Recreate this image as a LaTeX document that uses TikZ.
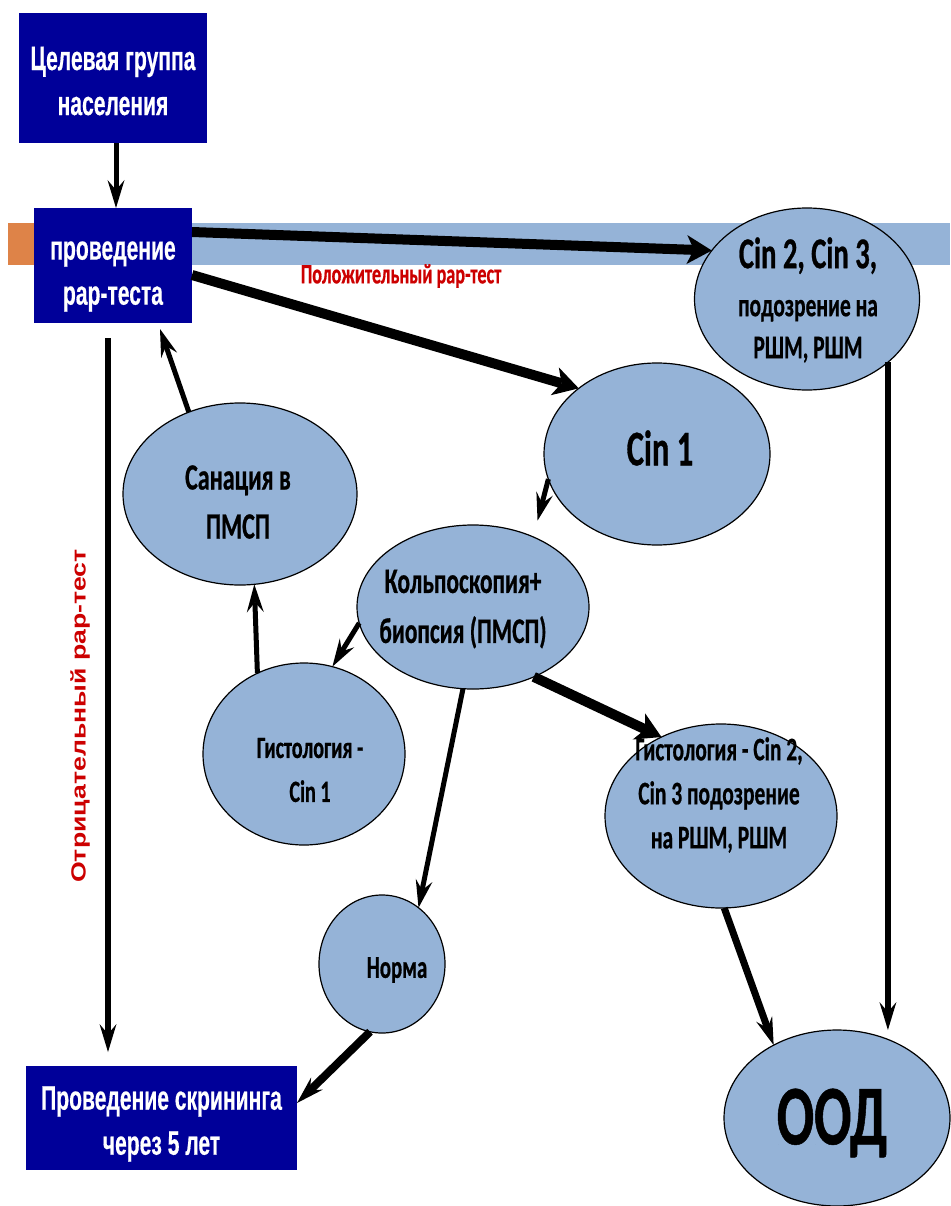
\documentclass[tikz,border=0pt]{standalone}
\usepackage{fontspec}
\usetikzlibrary{arrows.meta,shapes.geometric}
\newfontfamily\boxfont{Liberation Sans}[FakeStretch=0.62, FakeBold=0.4]
\newfontfamily\ovalfont{Carlito}[FakeStretch=0.65, FakeBold=0.6]
\newfontfamily\sidefont{Liberation Sans}[FakeStretch=1.3]
\definecolor{boxblue}{RGB}{0,0,153}
\definecolor{ovalblue}{RGB}{149,179,215}
\definecolor{bandorange}{RGB}{222,131,72}
\definecolor{labelred}{RGB}{204,0,0}
\tikzset{
  bluebox/.style={rectangle, fill=boxblue, inner sep=0pt, outer sep=0pt},
  boxtext/.style={text=white, inner sep=0pt, align=center,
    font=\boxfont\bfseries\fontsize{34}{45}\selectfont},
  oval/.style={ellipse, draw=black, line width=1.2pt, fill=ovalblue, inner sep=0pt, outer sep=0pt},
  ovaltext/.style n args={2}{align=center, inner sep=0pt, text=black,
    font=\ovalfont\bfseries\fontsize{#1}{#2}\selectfont},
  flow/.style={-{Stealth[length=28pt, width=17pt, inset=10pt, line width=0pt]}, line width=5pt},
  heavy/.style={-{Stealth[length=25pt, width=29pt, inset=7pt, line width=0pt]}, line width=10pt},
  redlabel/.style={text=labelred, inner sep=0pt}
}
\begin{document}
\begin{tikzpicture}[x=1pt, y=-1pt]
\useasboundingbox (0,0) rectangle (950,1206);

% horizontal band behind the test step
\fill[bandorange] (8,223) rectangle (40,265);
\fill[ovalblue] (40,223) rectangle (950,265);

% rectangular steps
\node[bluebox, minimum width=188pt, minimum height=130pt,
  label={[boxtext, name=targett, yshift=-3pt]center:{Целевая группа\\населения}}] (target) at (113,78) {};
\node[bluebox, minimum width=158pt, minimum height=115pt,
  label={[boxtext, name=testt, yshift=-11pt]center:{проведение\\рар-теста}}] (test) at (113,265.5) {};
\node[bluebox, minimum width=271pt, minimum height=104pt,
  label={[boxtext, name=repeatt, yshift=-6pt]center:{Проведение скрининга\\через 5 лет}}] (repeat) at (161.5,1118) {};

% oval outcomes
\node[oval, minimum width=225pt, minimum height=182pt] (cin2) at (807,299) {};
\node[oval, minimum width=226pt, minimum height=182pt] (cin1) at (657,454) {};
\node[oval, minimum width=234pt, minimum height=182pt] (san) at (240,494) {};
\node[oval, minimum width=232pt, minimum height=164pt] (colpo) at (473,607) {};
\node[oval, minimum width=202pt, minimum height=182pt] (histA) at (304,754) {};
\node[oval, minimum width=232pt, minimum height=184pt] (histB) at (721,816) {};
\node[oval, minimum width=126pt, minimum height=138pt] (norm) at (382,964) {};
\node[oval, minimum width=226pt, minimum height=176pt] (ood) at (837,1118) {};

% oval captions
\node[ovaltext={33}{42}] (cin2t) at (808,300)
  {{\fontsize{44}{42}\selectfont Cin 2, Cin 3,}\\[6pt]подозрение на\\РШМ, РШМ};
\node[ovaltext={50}{50}] (cin1t) at (660,448) {Cin 1};
\node[ovaltext={37}{49}] (sant) at (238,502) {Санация в\\ПМСП};
\node[ovaltext={36}{50}] (colpot) at (463,609) {Кольпоскопия+\\биопсия (ПМСП)};
\node[ovaltext={31}{44}] (histAt) at (310,770) {Гистология -\\Cin 1};
\node[ovaltext={33}{44}] (histBt) at (719,795) {Гистология - Cin 2,\\Cin 3 подозрение\\на РШМ, РШМ};
\node[ovaltext={32}{32}] (normt) at (397,970) {Норма};
\node[ovaltext={85}{85}] (oodt) at (832,1123) {ООД};

% branch labels
\node[redlabel, font=\ovalfont\bfseries\fontsize{28}{28}\selectfont] (pos) at (401,276)
  {Положительный рар-тест};
\node[redlabel, rotate=90, font=\sidefont\bfseries\fontsize{20.5}{20}\selectfont] (neg) at (80,716)
  {Отрицательный рар-тест};

% connectors
\coordinate (negline) at (108,0);
\draw[flow] ([xshift=3pt]target.south) -- ([xshift=3pt]test.north);
\draw[heavy] ([yshift=-24pt]test.north east) -- (cin2.153);
\draw[heavy] ([yshift=-9.5pt]test.east) -- (cin1.140);
\draw[flow, line width=6pt, shorten <=15pt, shorten >=14pt] (test.south -| negline) -- (repeat.north -| negline);
\draw[flow] (san.122) -- ([xshift=47pt, yshift=-6pt]test.south);
\draw[flow] (cin1.193) -- ([xshift=10pt, yshift=14pt]colpo.53);
\draw[flow] (colpo.188) -- (histA.72);
\draw[flow] (histA.120) -- (san.-81);
\draw[flow] (colpo.-97) -- (norm.57);
\draw[heavy] (colpo.-49) -- (histB.127);
\draw[flow, line width=7pt] (histB.-88) -- (ood.131);
\draw[flow, line width=6pt] (cin2.-38) -- (cin2.-38 |- ood.north);
\draw[flow, line width=8pt] (norm.-100) -- ([yshift=15pt]repeat.east);
\end{tikzpicture}
\end{document}
